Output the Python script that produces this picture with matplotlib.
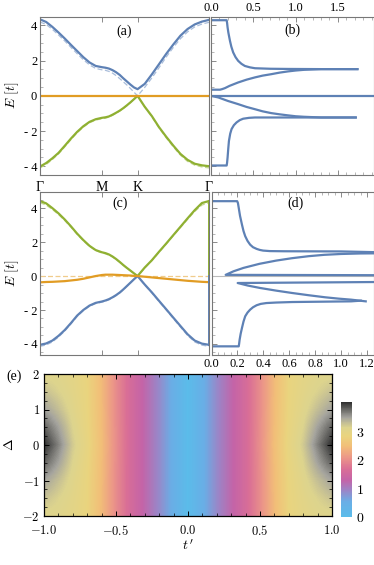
import numpy as np
import matplotlib.pyplot as plt
from matplotlib.colors import LinearSegmentedColormap
from matplotlib.ticker import MultipleLocator

plt.rcParams['font.family'] = ['Liberation Serif', 'DejaVu Serif']
plt.rcParams['mathtext.fontset'] = 'cm'

BLUE = '#5e81b5'
ORANGE = '#e19c24'
GREEN = '#8fb032'
LBLUE = '#a9bddb'
LORANGE = '#f0cc8c'
LGREEN = '#c5d892'

# k path Gamma - M - K - Gamma
k_ticks = [0.0, 1.0, 1.577, 2.732]
k_names = ['Γ', 'M', 'K', 'Γ']
k = [0.0, 0.1, 0.2, 0.3, 0.4, 0.5, 0.6, 0.7, 0.8, 0.9, 1.0,
     1.058, 1.115, 1.173, 1.231, 1.289, 1.346, 1.404, 1.462, 1.519, 1.577,
     1.693, 1.808, 1.924, 2.039, 2.155, 2.270, 2.386, 2.501, 2.617, 2.732]
k_ends = [0.0, 2.732]

# panel (a)
a_up = [4.35, 4.2, 3.92, 3.6, 3.26, 2.9, 2.55, 2.2, 1.9, 1.7, 1.63,
        1.6, 1.55, 1.46, 1.34, 1.19, 1.0, 0.82, 0.64, 0.48, 0.38,
        0.68, 1.22, 1.8, 2.38, 2.92, 3.42, 3.8, 4.06, 4.22, 4.32]
a_up_dash = [4.2, 4.06, 3.78, 3.46, 3.12, 2.76, 2.4, 2.06, 1.76, 1.56, 1.48,
             1.45, 1.39, 1.29, 1.15, 0.98, 0.8, 0.62, 0.42, 0.21, 0.0,
             0.48, 1.02, 1.6, 2.2, 2.75, 3.25, 3.64, 3.92, 4.08, 4.18]
a_mid = [0.0, 0.0]
a_low = [-4.02, -3.82, -3.55, -3.24, -2.84, -2.43, -2.05, -1.73, -1.48, -1.33, -1.25,
         -1.22, -1.17, -1.07, -0.96, -0.84, -0.7, -0.54, -0.37, -0.19, 0.0,
         -0.62, -1.15, -1.78, -2.32, -2.83, -3.3, -3.64, -3.86, -3.95, -4.0]
a_low_dash = [-4.1, -3.9, -3.62, -3.3, -2.9, -2.49, -2.1, -1.78, -1.53, -1.38, -1.3,
              -1.27, -1.21, -1.11, -0.99, -0.86, -0.72, -0.56, -0.38, -0.19, 0.0,
              -0.62, -1.19, -1.82, -2.38, -2.9, -3.37, -3.73, -3.94, -4.04, -4.1]

# panel (c)
c_up = [4.42, 4.28, 4.0, 3.69, 3.33, 2.93, 2.5, 2.12, 1.78, 1.53, 1.4,
        1.35, 1.27, 1.15, 1.0, 0.83, 0.65, 0.48, 0.32, 0.16, 0.0,
        0.5, 0.93, 1.43, 1.91, 2.41, 2.9, 3.4, 3.88, 4.3, 4.42]
c_up_dash = [4.32, 4.18, 3.92, 3.62, 3.27, 2.88, 2.46, 2.08, 1.75, 1.5, 1.36,
             1.31, 1.23, 1.12, 0.97, 0.81, 0.64, 0.47, 0.31, 0.15, 0.0,
             0.48, 0.91, 1.4, 1.88, 2.38, 2.86, 3.34, 3.8, 4.18, 4.32]
c_mid = [-0.37, -0.35, -0.34, -0.32, -0.3, -0.26, -0.22, -0.16, -0.08, 0.0, 0.06,
         0.08, 0.08, 0.08, 0.07, 0.06, 0.05, 0.04, 0.03, 0.01, 0.0,
         -0.04, -0.08, -0.12, -0.16, -0.2, -0.24, -0.28, -0.31, -0.34, -0.36]
c_mid_dash = [0.0, 0.0]
c_low = [-4.05, -3.97, -3.8, -3.52, -3.18, -2.77, -2.33, -2.0, -1.74, -1.58, -1.5,
         -1.44, -1.36, -1.25, -1.12, -0.97, -0.79, -0.59, -0.39, -0.19, 0.0,
         -0.5, -0.96, -1.46, -1.95, -2.45, -2.94, -3.43, -3.8, -3.98, -4.05]
c_low_dash = [-4.14, -4.06, -3.88, -3.59, -3.24, -2.82, -2.38, -2.04, -1.78, -1.62, -1.54,
              -1.48, -1.4, -1.28, -1.15, -0.99, -0.81, -0.61, -0.4, -0.2, 0.0,
              -0.52, -0.99, -1.5, -1.99, -2.5, -3.0, -3.5, -3.88, -4.07, -4.14]
c_edge_green = [4.42, 0.0]
c_edge_blue = [0.0, -4.05]

# panel (b)
b1_x = [0.0, 0.185, 0.19, 0.196, 0.205, 0.215, 0.224, 0.24, 0.262, 0.29, 0.321,
        0.36, 0.40, 0.46, 0.52, 0.7, 0.91, 1.3, 1.73]
b1_E = [4.3, 4.3, 4.15, 3.89, 3.6, 3.35, 3.13, 2.8, 2.47, 2.2, 1.99,
        1.82, 1.70, 1.62, 1.57, 1.54, 1.53, 1.52, 1.52]
b2_x = [0.0, 0.106, 0.13, 0.165, 0.22, 0.32, 0.42, 0.52, 0.61, 0.71, 0.81,
        0.91, 1.0, 1.1, 1.2, 1.3, 1.73]
b2_E = [0.35, 0.35, 0.38, 0.44, 0.57, 0.76, 0.92, 1.05, 1.15, 1.23, 1.32,
        1.39, 1.44, 1.48, 1.5, 1.52, 1.52]
b3_x = [0.0, 1.95]
b3_E = [0.0, 0.0]
b4_x = [0.0, 0.086, 0.2, 0.32, 0.42, 0.52, 0.61, 0.71, 0.81, 0.91, 1.0,
        1.1, 1.2, 1.3, 1.71]
b4_E = [0.0, -0.09, -0.29, -0.47, -0.63, -0.76, -0.88, -0.98, -1.05, -1.11, -1.16,
        -1.19, -1.21, -1.23, -1.23]
b5_x = [0.0, 0.185, 0.19, 0.196, 0.204, 0.212, 0.227, 0.243, 0.27, 0.302, 0.34,
        0.38, 0.45, 0.52, 1.71]
b5_E = [-3.96, -3.96, -3.8, -3.5, -3.0, -2.56, -2.15, -1.89, -1.67, -1.51, -1.38,
        -1.3, -1.25, -1.23, -1.23]

# panel (d)
d1_x = [0.0, 0.198, 0.204, 0.21, 0.22, 0.235, 0.247, 0.26, 0.278, 0.298, 0.32,
        0.348, 0.372, 0.398, 0.45, 0.56, 1.0, 1.3]
d1_E = [4.41, 4.41, 4.3, 4.02, 3.55, 3.03, 2.65, 2.35, 2.07, 1.85, 1.7,
        1.6, 1.54, 1.5, 1.47, 1.46, 1.45, 1.40]
d2_x = [1.3, 0.109, 0.17, 0.247, 0.37, 0.499, 0.62, 0.75, 0.87, 1.0, 1.15, 1.3]
d2_E = [0.05, 0.07, 0.28, 0.48, 0.72, 0.91, 1.05, 1.17, 1.25, 1.3, 1.33, 1.34]
d3_x = [1.3, 0.202, 0.28, 0.373, 0.5, 0.624, 0.75, 0.876, 0.98, 1.077, 1.19]
d3_E = [-0.35, -0.41, -0.56, -0.70, -0.86, -1.0, -1.13, -1.25, -1.33, -1.39, -1.49]
d4_x = [0.0, 0.21, 0.213, 0.217, 0.225, 0.235, 0.247, 0.26, 0.278, 0.298, 0.32,
        0.348, 0.38, 0.424, 0.5, 0.624, 1.077, 1.152]
d4_E = [-4.14, -4.14, -4.0, -3.75, -3.4, -3.06, -2.68, -2.37, -2.15, -1.98, -1.84,
        -1.72, -1.64, -1.59, -1.56, -1.53, -1.49, -1.45]
d0_x = [0.0, 1.3]
d0_E = [0.0, 0.0]

# panel (e): gap over (t', Delta)
tp = [-1.0, -0.9, -0.8, -0.7, -0.6, -0.5, -0.4, -0.3, -0.2, -0.1, 0.0,
      0.1, 0.2, 0.3, 0.4, 0.5, 0.6, 0.7, 0.8, 0.9, 1.0]
delta = [-2.0, -1.5, -1.0, -0.5, 0.0, 0.5, 1.0, 1.5, 2.0]
gap = [
    [3.10, 3.08, 3.00, 2.85, 2.45, 2.00, 1.60, 1.25, 0.90, 0.50, 0.00, 0.50, 0.90, 1.25, 1.60, 2.00, 2.45, 2.85, 3.00, 3.08, 3.10],
    [3.28, 3.16, 3.03, 2.86, 2.46, 2.00, 1.60, 1.25, 0.90, 0.50, 0.00, 0.50, 0.90, 1.25, 1.60, 2.00, 2.46, 2.86, 3.03, 3.16, 3.28],
    [3.50, 3.30, 3.08, 2.87, 2.47, 2.00, 1.60, 1.25, 0.90, 0.50, 0.00, 0.50, 0.90, 1.25, 1.60, 2.00, 2.47, 2.87, 3.08, 3.30, 3.50],
    [3.80, 3.50, 3.15, 2.89, 2.48, 2.01, 1.60, 1.25, 0.90, 0.50, 0.00, 0.50, 0.90, 1.25, 1.60, 2.01, 2.48, 2.89, 3.15, 3.50, 3.80],
    [4.05, 3.65, 3.22, 2.92, 2.50, 2.02, 1.60, 1.25, 0.90, 0.50, 0.00, 0.50, 0.90, 1.25, 1.60, 2.02, 2.50, 2.92, 3.22, 3.65, 4.05],
    [3.80, 3.50, 3.15, 2.89, 2.48, 2.01, 1.60, 1.25, 0.90, 0.50, 0.00, 0.50, 0.90, 1.25, 1.60, 2.01, 2.48, 2.89, 3.15, 3.50, 3.80],
    [3.50, 3.30, 3.08, 2.87, 2.47, 2.00, 1.60, 1.25, 0.90, 0.50, 0.00, 0.50, 0.90, 1.25, 1.60, 2.00, 2.47, 2.87, 3.08, 3.30, 3.50],
    [3.28, 3.16, 3.03, 2.86, 2.46, 2.00, 1.60, 1.25, 0.90, 0.50, 0.00, 0.50, 0.90, 1.25, 1.60, 2.00, 2.46, 2.86, 3.03, 3.16, 3.28],
    [3.10, 3.08, 3.00, 2.85, 2.45, 2.00, 1.60, 1.25, 0.90, 0.50, 0.00, 0.50, 0.90, 1.25, 1.60, 2.00, 2.45, 2.85, 3.00, 3.08, 3.10],
]
cb_max = 4.05

cmap = LinearSegmentedColormap.from_list('gapmap', [
    (0.0, '#5bbcea'), (0.55 / cb_max, '#6aaee6'), (0.95 / cb_max, '#9d84c6'),
    (1.3 / cb_max, '#c464a8'), (1.7 / cb_max, '#da6f96'), (2.1 / cb_max, '#ec9788'),
    (2.5 / cb_max, '#f2bf78'), (2.85 / cb_max, '#ead47e'), (3.15 / cb_max, '#ddd48e'),
    (3.5 / cb_max, '#a5a49e'), (1.0, '#2e2e2e')])

W, H = 374, 565
fig = plt.figure(figsize=(W / 100, H / 100), dpi=100)


def box(l, t, r, b):
    return [l / W, 1 - b / H, (r - l) / W, (b - t) / H]


def style(ax):
    for s in ax.spines.values():
        s.set_color('#777777')
        s.set_linewidth(0.8)
    ax.tick_params(which='major', direction='in', length=3.5, width=0.6,
                   color='#777777', labelsize=9, pad=2)
    ax.tick_params(which='minor', direction='in', length=2, width=0.5,
                   color='#999999')


ax_a = fig.add_axes(box(40, 16.7, 209, 175))
ax_b = fig.add_axes(box(211, 16.7, 373.5, 175))
ax_c = fig.add_axes(box(40, 192, 209, 355))
ax_d = fig.add_axes(box(211.5, 192, 373.5, 355))
ax_e = fig.add_axes(box(44, 374, 332, 516))
ax_cb = fig.add_axes(box(341, 401.7, 352, 517.3))

ylabels = ['- 4', '- 2', '0', '2', '4']
dash = (0, (4, 2))

# (a)
ax_a.plot(k, a_up_dash, color=LBLUE, lw=0.9, ls=dash)
ax_a.plot(k, a_low_dash, color=LGREEN, lw=0.9, ls=dash)
ax_a.plot(k, a_up, color=BLUE, lw=1.6)
ax_a.plot(k, a_low, color=GREEN, lw=1.6)
ax_a.plot(k_ends, a_mid, color=ORANGE, lw=1.6)
ax_a.set_xlim(0, 2.732)
ax_a.set_ylim(-4.5, 4.5)
style(ax_a)
ax_a.set_xticks(k_ticks)
ax_a.set_xticklabels(k_names, fontsize=10)
ax_a.tick_params(axis='x', top=True, pad=4)
ax_a.set_yticks([-4, -2, 0, 2, 4])
ax_a.set_yticklabels(ylabels)
ax_a.yaxis.set_minor_locator(MultipleLocator(0.5))
ax_a.set_ylabel(r'$E\ [t]$', fontsize=10, labelpad=2)

# (b)
for x, e in [(b1_x, b1_E), (b2_x, b2_E), (b3_x, b3_E), (b4_x, b4_E), (b5_x, b5_E)]:
    ax_b.plot(x, e, color=BLUE, lw=1.6)
ax_b.set_xlim(0, 1.92)
ax_b.set_ylim(-4.5, 4.5)
style(ax_b)
ax_b.xaxis.tick_top()
ax_b.tick_params(axis='x', which='both', bottom=True)
ax_b.set_xticks([0.0, 0.5, 1.0, 1.5])
ax_b.set_xticklabels(['0.0', '0.5', '1.0', '1.5'])
ax_b.xaxis.set_minor_locator(MultipleLocator(0.1))
ax_b.set_yticks([-4, -2, 0, 2, 4])
ax_b.set_yticklabels([])
ax_b.yaxis.set_minor_locator(MultipleLocator(0.5))

# (c)
ax_c.plot(k_ends, c_mid_dash, color=LORANGE, lw=0.9, ls=dash)
ax_c.plot(k, c_up_dash, color=LGREEN, lw=0.9, ls=dash)
ax_c.plot(k, c_low_dash, color=LBLUE, lw=0.9, ls=dash)
ax_c.plot(k, c_up, color=GREEN, lw=1.6)
ax_c.plot(k, c_low, color=BLUE, lw=1.6)
ax_c.plot(k, c_mid, color=ORANGE, lw=1.6)
ax_c.plot([k[-1], k[-1]], c_edge_green, color=GREEN, lw=1.4)
ax_c.plot([k[-1], k[-1]], c_edge_blue, color=BLUE, lw=1.4)
ax_c.set_xlim(0, 2.732)
ax_c.set_ylim(-4.65, 4.95)
style(ax_c)
ax_c.set_xticks(k_ticks)
ax_c.set_xticklabels([])
ax_c.tick_params(axis='x', top=True)
ax_c.set_yticks([-4, -2, 0, 2, 4])
ax_c.set_yticklabels(ylabels)
ax_c.yaxis.set_minor_locator(MultipleLocator(0.5))
ax_c.set_ylabel(r'$E\ [t]$', fontsize=10, labelpad=2)

# (d)
ax_d.plot(d0_x, d0_E, color='#bbbbbb', lw=0.8)
for x, e in [(d1_x, d1_E), (d2_x, d2_E), (d3_x, d3_E), (d4_x, d4_E)]:
    ax_d.plot(x, e, color=BLUE, lw=1.6)
ax_d.set_xlim(0.0, 1.25)
ax_d.set_ylim(-4.65, 4.95)
style(ax_d)
ax_d.tick_params(axis='x', which='both', top=True)
ax_d.set_xticks([0.0, 0.2, 0.4, 0.6, 0.8, 1.0, 1.2])
ax_d.set_xticklabels(['0.0', '0.2', '0.4', '0.6', '0.8', '1.0', '1.2'])
ax_d.xaxis.set_minor_locator(MultipleLocator(0.05))
ax_d.set_yticks([-4, -2, 0, 2, 4])
ax_d.set_yticklabels([])
ax_d.yaxis.set_minor_locator(MultipleLocator(0.5))

# (e)
im = ax_e.imshow(np.array(gap), extent=(-1.05, 1.05, -2.25, 2.25), origin='lower',
                 aspect='auto', cmap=cmap, vmin=0, vmax=cb_max,
                 interpolation='bilinear')
ax_e.set_xlim(-1, 1)
ax_e.set_ylim(-2, 2)
for s in ax_e.spines.values():
    s.set_linewidth(0.9)
ax_e.tick_params(which='major', direction='in', length=3.5, width=0.7,
                 top=True, right=True, labelsize=9, pad=3)
ax_e.tick_params(axis='x', which='major', pad=6)
ax_e.tick_params(which='minor', direction='in', length=2, width=0.5,
                 top=True, right=True)
ax_e.set_xticks([-1.0, -0.5, 0.0, 0.5, 1.0])
ax_e.set_xticklabels([r'$-1.0$', r'$-0.5$', r'$0.0$', r'$0.5$', r'$1.0$'])
ax_e.set_yticks([-2, -1, 0, 1, 2])
ax_e.set_yticklabels([r'$-2$', r'$-1$', r'$0$', r'$1$', r'$2$'])
ax_e.xaxis.set_minor_locator(MultipleLocator(0.1))
ax_e.yaxis.set_minor_locator(MultipleLocator(0.25))
ax_e.set_ylabel(r'$\Delta$', fontsize=10, labelpad=5)
fig.text(188 / W, 1 - 546 / H, r"$t\,'$", ha='center', va='center', fontsize=10)

cb = fig.colorbar(im, cax=ax_cb, ticks=[0, 1, 2, 3])
cb.outline.set_visible(False)
cb.ax.tick_params(length=0, labelsize=10, pad=3)
cb.ax.set_yticklabels([r'$0$', r'$1$', r'$2$', r'$3$'])

# panel tags
fig.text(124 / W, 1 - 31 / H, '(a)', ha='center', va='center', fontsize=10)
fig.text(292 / W, 1 - 30 / H, '(b)', ha='center', va='center', fontsize=10)
fig.text(120 / W, 1 - 203 / H, '(c)', ha='center', va='center', fontsize=10)
fig.text(295 / W, 1 - 203 / H, '(d)', ha='center', va='center', fontsize=10)
fig.text(14 / W, 1 - 376 / H, '(e)', ha='center', va='center', fontsize=10)

fig.savefig('out.png', dpi=100)
